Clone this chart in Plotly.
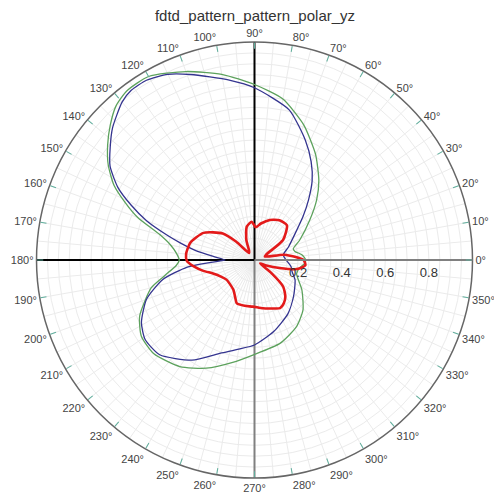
import plotly.graph_objects as go

# far-field pattern cuts (normalised)
blue_theta = [0, 10, 21, 33, 42, 48, 54, 60, 67, 77, 90, 98, 109, 115, 121, 126, 130, 137, 142,
              147, 152, 156, 160, 164, 167, 171, 175, 180, 183, 186, 192, 200, 209, 216, 225, 238,
              250, 260, 270, 285, 302, 317, 334, 343, 350, 360]
blue_r = [0.145, 0.134, 0.167, 0.222, 0.30, 0.37, 0.45, 0.52, 0.597, 0.707, 0.79, 0.833, 0.90,
          0.94, 0.962, 0.962, 0.945, 0.89, 0.84, 0.79, 0.71, 0.62, 0.527, 0.42, 0.35, 0.27, 0.19,
          0.135, 0.2, 0.31, 0.43, 0.527, 0.593, 0.62, 0.615, 0.542, 0.455, 0.415, 0.39, 0.34,
          0.29, 0.245, 0.207, 0.18, 0.17, 0.145]

green_theta = [0, 6, 12, 16, 24, 36, 44, 51, 60, 70, 80, 90, 100, 110, 120, 127, 132, 137, 142,
               147, 152, 156, 160, 165, 170, 175, 180, 184, 190, 195, 206, 214, 223, 235, 246, 258,
               269, 287, 302, 314, 328, 342, 350, 356, 360]
green_r = [0.235, 0.22, 0.19, 0.185, 0.228, 0.314, 0.396, 0.469, 0.56, 0.66, 0.75, 0.805, 0.865,
           0.92, 0.972, 0.972, 0.95, 0.905, 0.855, 0.80, 0.73, 0.65, 0.57, 0.45, 0.39, 0.36, 0.345,
           0.36, 0.42, 0.49, 0.586, 0.626, 0.631, 0.597, 0.543, 0.48, 0.436, 0.40, 0.362, 0.32,
           0.256, 0.203, 0.21, 0.23, 0.235]

red_theta = [0, 10, 18, 25, 35, 47, 58, 69, 80, 88, 94, 103, 112, 120, 128, 135, 140, 152, 165,
             175, 181, 186, 192, 198, 207, 215, 225, 235, 242, 248, 258, 268, 280, 291, 298,
             304, 310, 317, 322, 328, 335, 342, 348, 354, 360]
red_r = [0.225, 0.14, 0.05, 0.06, 0.16, 0.218, 0.215, 0.197, 0.17, 0.15, 0.176, 0.157, 0.1,
         0.05, 0.04, 0.12, 0.19, 0.265, 0.305, 0.315, 0.31, 0.28, 0.24, 0.2, 0.17, 0.157, 0.158,
         0.168, 0.19, 0.215, 0.215, 0.214, 0.225, 0.238, 0.25, 0.24, 0.22, 0.18, 0.1, 0.03,
         0.06, 0.12, 0.2, 0.235, 0.225]

angle_ticks = list(range(0, 360, 10))
radial_labels = {0.2: "0.2", 0.4: "0.4", 0.6: "0.6", 0.8: "0.8"}

GRID = "#ebebeb"
# the page body adds an 8px margin, so the figure is made smaller to fit the window
W, H = 494, 493
fig = go.Figure()

# finer angular grid (every 5 deg), drawn under everything else
sp_t, sp_r = [], []
for a in range(5, 360, 10):
    sp_t += [a, a, None]
    sp_r += [0, 1, None]
fig.add_trace(go.Scatterpolar(r=sp_r, theta=sp_t, mode="lines", line=dict(color=GRID, width=1),
                              hoverinfo="skip", showlegend=False))

# cross-hair lines through the origin
for ang, col in [(270, "#808080"), (90, "black"), (180, "black")]:
    fig.add_trace(go.Scatterpolar(r=[0, 1], theta=[ang, ang], mode="lines",
                                  line=dict(color=col, width=2), hoverinfo="skip",
                                  showlegend=False))

fig.add_trace(go.Scatterpolar(r=green_r, theta=green_theta, mode="lines", name="green",
                              line=dict(color="#5da25d", width=1.3, shape="spline", smoothing=0.6)))
fig.add_trace(go.Scatterpolar(r=blue_r, theta=blue_theta, mode="lines", name="blue",
                              line=dict(color="#34348f", width=1.3, shape="spline", smoothing=0.6)))
fig.add_trace(go.Scatterpolar(r=red_r, theta=red_theta, mode="lines", name="red",
                              line=dict(color="#e31a1a", width=2.6, shape="spline", smoothing=0.6)))

rv = [round(0.05 * i, 2) for i in range(1, 20)]
cx, cy, rad = 246.5, 252, 218          # circle centre / radius in figure pixels (from top-left)
fig.update_layout(
    width=W, height=H, margin=dict(l=0, r=0, t=0, b=0),
    paper_bgcolor="white", showlegend=False,
    font=dict(family="Liberation Sans, Arial, sans-serif"),
    title=dict(text="fdtd_pattern_pattern_polar_yz", x=0.5, xanchor="center",
               y=1 - 8 / H, yanchor="middle", font=dict(size=15, color="#333")),
    polar=dict(
        domain=dict(x=[(cx - rad) / W, (cx + rad) / W],
                    y=[(H - cy - rad) / H, (H - cy + rad) / H]),
        bgcolor="white",
        angularaxis=dict(rotation=0, direction="counterclockwise", tickmode="array",
                         tickvals=angle_ticks, ticktext=[f"{a}°" for a in angle_ticks],
                         ticks="inside", ticklen=6, tickwidth=1, tickcolor="#5fae9c",
                         showline=True, linecolor="#666", linewidth=1.5,
                         gridcolor=GRID, tickfont=dict(size=11, color="#444")),
        radialaxis=dict(range=[0, 1], angle=0, tickangle=0, tickmode="array", tickvals=rv,
                        ticktext=[radial_labels.get(v, "") for v in rv], ticks="",
                        showline=True, linecolor="#808080", linewidth=2, gridcolor=GRID,
                        side="clockwise", tickfont=dict(size=13, color="#333")),
    ),
)

fig.write_html("out.html")
